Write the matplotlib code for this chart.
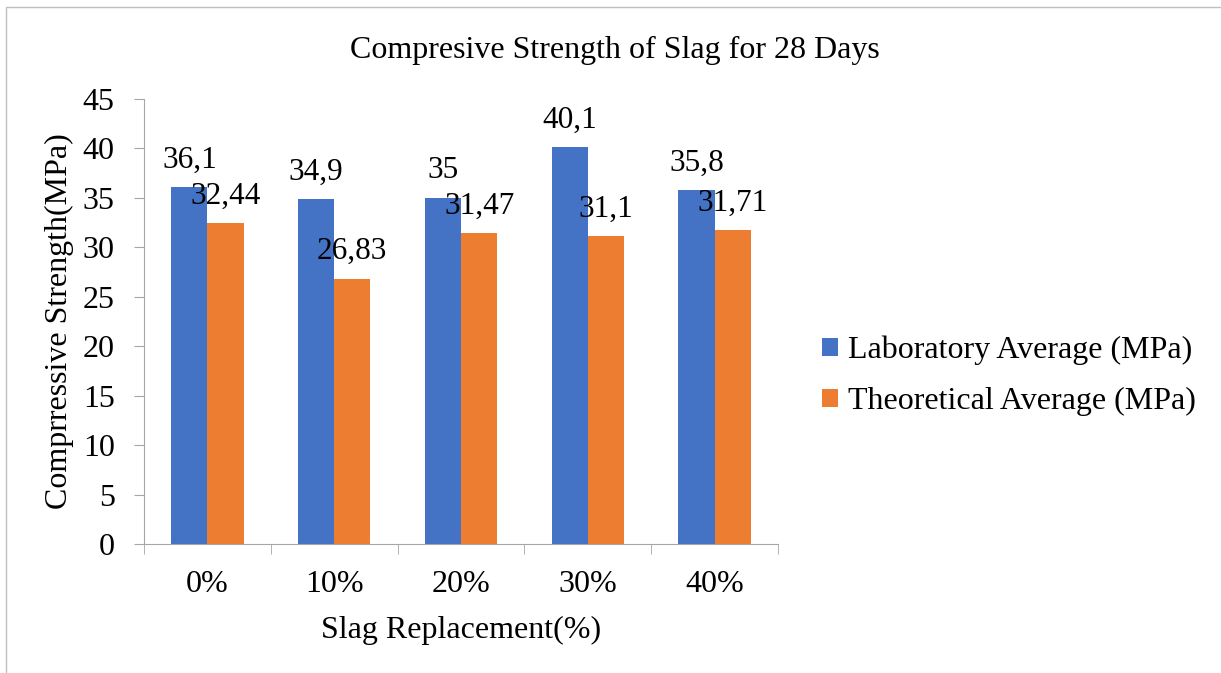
import matplotlib
matplotlib.use("Agg")
import matplotlib.pyplot as plt
from matplotlib.patches import Rectangle
import numpy as np

plt.rcParams['font.family'] = ['Liberation Serif', 'DejaVu Serif']

categories = ["0%", "10%", "20%", "30%", "40%"]
lab_avg = [36.1, 34.9, 35.0, 40.1, 35.8]
theo_avg = [32.44, 26.83, 31.47, 31.1, 31.71]
lab_labels = ["36,1", "34,9", "35", "40,1", "35,8"]
theo_labels = ["32,44", "26,83", "31,47", "31,1", "31,71"]
yticks = [0, 5, 10, 15, 20, 25, 30, 35, 40, 45]

fig = plt.figure(figsize=(12.21, 6.73), dpi=100)
ax = fig.add_axes([144 / 1221, 1 - 544 / 673, 634 / 1221, 445 / 673])

# chart border (runs off right/bottom edge like the original)
fig.patches.append(Rectangle((6 / 1221, -0.1), 1.2, 1 - 7 / 673 + 0.1,
                             transform=fig.transFigure, fill=False,
                             edgecolor="#BFBFBF", linewidth=1.0))

x = np.arange(len(categories))
w = 0.285
b1 = ax.bar(x - w / 2, lab_avg, w, color="#4472C4", label="Laboratory Average (MPa)")
b2 = ax.bar(x + w / 2, theo_avg, w, color="#ED7D31", label="Theoretical Average (MPa)")

for bars, labs in [(b1, lab_labels), (b2, theo_labels)]:
    for r, t in zip(bars, labs):
        ax.annotate(t, (r.get_x() + r.get_width() / 2, r.get_height()),
                    xytext=(0, 14), textcoords="offset points",
                    ha="center", va="baseline", fontsize=22.5)

ax.set_xlim(-0.5, len(categories) - 0.5)
ax.set_ylim(0, 45)
ax.set_yticks(yticks)
ax.set_xticks(x)
ax.set_xticklabels(categories)
ax.set_xticks(np.arange(len(categories) + 1) - 0.5, minor=True)
ax.tick_params(axis="x", which="major", length=0, pad=19, labelsize=23)
ax.tick_params(axis="x", which="minor", length=7, color="#A6A6A6")
ax.tick_params(axis="y", length=7, color="#A6A6A6", labelsize=23, pad=14)

for s in ["top", "right"]:
    ax.spines[s].set_visible(False)
for s in ["left", "bottom"]:
    ax.spines[s].set_color("#A6A6A6")

ax.set_xlabel("Slag Replacement(%)", fontsize=23, labelpad=12)
ax.set_ylabel("Comprressive Strength(MPa)", fontsize=23, labelpad=6)
fig.text(615 / 1221, 1 - 50 / 673, "Compresive Strength of Slag for 28 Days",
         ha="center", va="center", fontsize=23)

ax.legend(loc="center left", bbox_to_anchor=(822 / 1221, 1 - 376 / 673),
          bbox_transform=fig.transFigure, frameon=False, borderpad=0,
          borderaxespad=0, fontsize=23, handlelength=0.5, handleheight=0.5,
          handletextpad=0.3, labelspacing=0.7)

fig.savefig("out.png", dpi=100)
